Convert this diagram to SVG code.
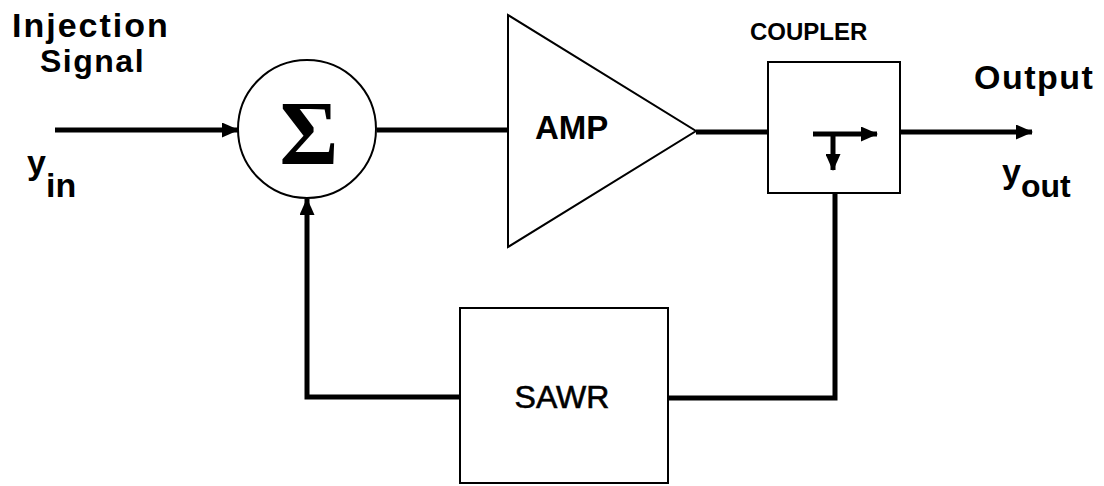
<svg xmlns="http://www.w3.org/2000/svg" width="1104" height="486" viewBox="0 0 1104 486">
  <style>
    .lbl { font-family: "Liberation Sans", Arial, sans-serif; font-weight: bold; fill: #000; }
    .shape { fill: #fff; stroke: #000; stroke-width: 2; }
    .wire { fill: none; stroke: #000; stroke-width: 5; }
  </style>
  <defs>
    <marker id="arrow" markerUnits="userSpaceOnUse" markerWidth="17" markerHeight="15" refX="16" refY="7.5" orient="auto">
      <path d="M0,0 L17,7.5 L0,15 Z" fill="#000"/>
    </marker>
  </defs>
  <rect width="1104" height="486" fill="#fff"/>

  <!-- connectors -->
  <g id="connectors">
    <line class="wire" x1="55" y1="130" x2="238" y2="130" marker-end="url(#arrow)"/>
    <line class="wire" x1="377" y1="130" x2="508" y2="130"/>
    <line class="wire" x1="696" y1="132" x2="768" y2="132"/>
    <line class="wire" x1="900" y1="132" x2="1032" y2="132" marker-end="url(#arrow)"/>
    <path class="wire" d="M835,193 V398 H668"/>
    <path class="wire" d="M460,397 H307 V199" marker-end="url(#arrow)"/>
  </g>

  <!-- input labels -->
  <g id="input-labels">
    <text class="lbl" x="12" y="37" font-size="34" letter-spacing="2">Injection</text>
    <text class="lbl" x="40" y="72" font-size="32" letter-spacing="1.5">Signal</text>
    <text class="lbl" x="27" y="174" font-size="34">y</text>
    <text class="lbl" x="46" y="197" font-size="34">in</text>
  </g>

  <!-- summing junction -->
  <g id="sum">
    <circle class="shape" cx="307" cy="129" r="69"/>
    <text x="309" y="164" font-family="'Liberation Serif', 'Times New Roman', serif" font-weight="bold" font-size="90" text-anchor="middle">Σ</text>
  </g>

  <!-- amplifier -->
  <g id="amp">
    <polygon class="shape" points="508,15 508,247 696,131"/>
    <text class="lbl" x="535" y="139" font-size="33">AMP</text>
  </g>

  <!-- coupler -->
  <g id="coupler">
    <text class="lbl" x="750" y="40" font-size="24">COUPLER</text>
    <rect class="shape" x="768" y="62" width="132" height="131"/>
    <line class="wire" x1="813" y1="134" x2="877" y2="134" marker-end="url(#arrow)"/>
    <line class="wire" x1="833" y1="134" x2="833" y2="170" marker-end="url(#arrow)"/>
  </g>

  <!-- output labels -->
  <g id="output-labels">
    <text class="lbl" x="974" y="89" font-size="34" letter-spacing="1.5">Output</text>
    <text class="lbl" x="1002" y="183" font-size="34">y</text>
    <text class="lbl" x="1021" y="197" font-size="32">out</text>
  </g>

  <!-- resonator -->
  <g id="sawr">
    <rect class="shape" x="460" y="308" width="208" height="175"/>
    <text x="562" y="408" font-family="'Liberation Sans', Arial, sans-serif" font-size="32" stroke="#000" stroke-width="0.6" text-anchor="middle">SAWR</text>
  </g>
</svg>
